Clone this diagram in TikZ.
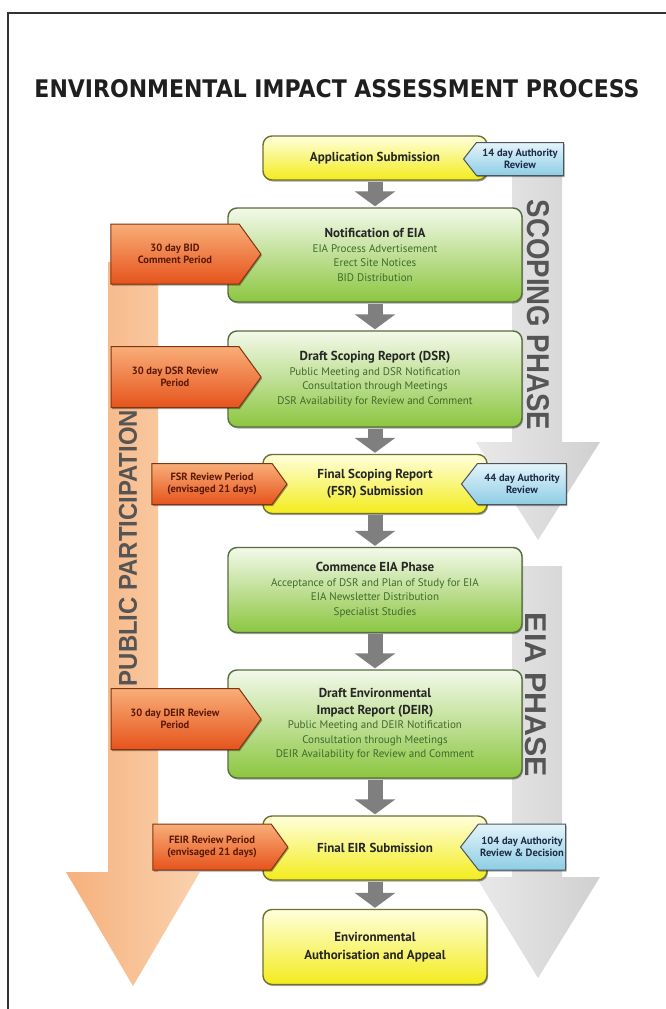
\documentclass[tikz,border=0pt]{standalone}
\usepackage{fontspec}
\setmainfont{PT Sans}
\newfontfamily\titlefont{DejaVu Sans}
\newfontfamily\phasefont{Liberation Sans}
\usetikzlibrary{shapes.symbols,arrows.meta,shadows}
\definecolor{yTop}{HTML}{FFFFDC}
\definecolor{yBot}{HTML}{F3EC1C}
\definecolor{yEdge}{HTML}{707030}
\definecolor{gTop}{HTML}{F3F9EA}
\definecolor{gBot}{HTML}{8CC640}
\definecolor{gEdge}{HTML}{566E3C}
\definecolor{oTop}{HTML}{F9AE78}
\definecolor{oBot}{HTML}{E6531C}
\definecolor{oEdge}{HTML}{7E3512}
\definecolor{oText}{HTML}{5A1A05}
\definecolor{bTop}{HTML}{E4F4FA}
\definecolor{bBot}{HTML}{8ECDE5}
\definecolor{bEdge}{HTML}{4A5560}
\definecolor{bText}{HTML}{1E2A44}
\definecolor{subGreen}{HTML}{3E6B2C}
\definecolor{connGray}{HTML}{7F7F7F}
\definecolor{peachL}{HTML}{F6B07C}
\definecolor{peachR}{HTML}{FAD2AE}
\definecolor{phL}{HTML}{D0D0D0}
\definecolor{phR}{HTML}{E9E9E9}
\definecolor{phText}{HTML}{555555}
\definecolor{frame}{HTML}{333333}
\newcommand\boxtitle[1]{{\fontsize{13}{15}\selectfont\bfseries\color{black!85}#1}}
\begin{document}
\begin{tikzpicture}[x=1pt,y=-1pt,
  softshadow/.style={drop shadow={shadow xshift=1pt, shadow yshift=-1.5pt, opacity=0.35, fill=black}},
  mainbox/.style={rounded corners=9pt, line width=1.4pt, align=center, softshadow,
    font=\fontsize{11}{14.5}\selectfont\color{subGreen}, inner sep=2pt},
  ybox/.style={mainbox, draw=yEdge, top color=yTop, bottom color=yBot, minimum width=224pt},
  gbox/.style={mainbox, draw=gEdge, top color=gTop, bottom color=gBot, minimum width=294pt},
  otab/.style={signal, signal to=east, signal pointer angle=108, draw=oEdge, line width=1pt,
    top color=oTop, bottom color=oBot, align=center, inner sep=1pt, softshadow,
    font=\fontsize{10.5}{12.5}\selectfont\bfseries\color{oText}},
  btab/.style={signal, signal to=west, signal pointer angle=104, draw=bEdge, line width=1pt,
    top color=bTop, bottom color=bBot, align=center, inner sep=1pt, softshadow,
    font=\fontsize{10.5}{12.5}\selectfont\bfseries\color{bText}},
  conn/.style={draw=connGray, line width=15pt, -{Triangle[width=40pt,length=15pt]}, shorten <=1pt, shorten >=1pt},
  phasetxt/.style={text=phText, inner sep=0pt}
]
\useasboundingbox (0,0) rectangle (666,1009);
\fill[white] (0,0) rectangle (666,1009);

% big background arrows
\path[left color=peachL, right color=peachR]
  (108,262) -- (158,262) -- (158,872) -- (200,872) -- (133,986) -- (66,872) -- (108,872) -- cycle;
\path[left color=phR, right color=phL]
  (512,170) -- (562,170) -- (562,442) -- (600,442) -- (538,540) -- (476,442) -- (512,442) -- cycle;
\path[left color=phR, right color=phL]
  (512,566) -- (562,566) -- (562,877) -- (600,877) -- (538,978) -- (476,877) -- (512,877) -- cycle;

\node[phasetxt, rotate=90] (pp) at (128,548)
  {\resizebox{276pt}{18pt}{\phasefont\bfseries PUBLIC PARTICIPATION}};
\node[phasetxt, rotate=-90] (sp) at (538,315)
  {\resizebox{230pt}{22pt}{\phasefont\bfseries SCOPING PHASE}};
\node[phasetxt, rotate=-90] (ep) at (536,695)
  {\resizebox{164pt}{21pt}{\phasefont\bfseries EIA PHASE}};

% title
\node[inner sep=0pt] (title) at (337,89)
  {\resizebox{605pt}{18pt}{\titlefont\bfseries\color{black!88}ENVIRONMENTAL IMPACT ASSESSMENT PROCESS}};

% main boxes
\node[ybox, minimum height=44pt] (app) at (375,158) {\boxtitle{Application Submission}};
\node[gbox, minimum height=94pt] (notif) at (375,255)
  {\boxtitle{Notification of EIA}\\EIA Process Advertisement\\Erect Site Notices\\BID Distribution};
\node[gbox, minimum height=96pt] (dsr) at (375,379)
  {\boxtitle{Draft Scoping Report (DSR)}\\Public Meeting and DSR Notification\\Consultation through Meetings\\DSR Availability for Review and Comment};
\node[ybox, minimum height=59pt] (fsr) at (375,484)
  {\boxtitle{Final Scoping Report}\\[2pt]\boxtitle{(FSR) Submission}};
\node[gbox, minimum height=85pt] (cei) at (375,590)
  {\boxtitle{Commence EIA Phase}\\Acceptance of DSR and Plan of Study for EIA\\EIA Newsletter Distribution\\Specialist Studies};
\node[gbox, minimum height=108pt] (deir) at (375,724)
  {\boxtitle{Draft Environmental}\\[2pt]\boxtitle{Impact Report (DEIR)}\\Public Meeting and DEIR Notification\\Consultation through Meetings\\DEIR Availability for Review and Comment};
\node[ybox, minimum height=64pt] (feir) at (375,848) {\boxtitle{Final EIR Submission}};
\node[ybox, minimum height=75pt] (auth) at (375,947)
  {\boxtitle{Environmental}\\[3pt]\boxtitle{Authorisation and Appeal}};

% connectors
\draw[conn] (app) -- (notif);
\draw[conn] (notif) -- (dsr);
\draw[conn] (dsr) -- (fsr);
\draw[conn] (fsr) -- (cei);
\draw[conn] (cei) -- (deir);
\draw[conn] (deir) -- (feir);
\draw[conn] (feir) -- (auth);

% side tabs
\node[otab, minimum width=150pt, minimum height=60pt] (t1) at (175,254) {30 day BID\\Comment Period};
\node[otab, minimum width=150pt, minimum height=61pt] (t2) at (175,377) {30 day DSR Review\\Period};
\node[otab, minimum width=135pt, minimum height=41pt] (t3) at (212,484) {FSR Review Period\\(envisaged 21 days)};
\node[otab, minimum width=150pt, minimum height=61pt] (t4) at (175,719) {30 day DEIR Review\\Period};
\node[otab, minimum width=135pt, minimum height=46pt] (t5) at (212,847) {FEIR Review Period\\(envisaged 21 days)};
\node[btab, minimum width=100pt, minimum height=33pt] (b1) at (520,159) {14 day Authority\\Review};
\node[btab, minimum width=105pt, minimum height=41pt] (b2) at (522,484) {44 day Authority\\Review};
\node[btab, minimum width=105pt, minimum height=46pt] (b3) at (522,847) {104 day Authority\\Review \& Decision};

% frame
\draw[frame, line width=2.5pt] (8,1012) -- (8,13) -- (670,13);
\end{tikzpicture}
\end{document}
